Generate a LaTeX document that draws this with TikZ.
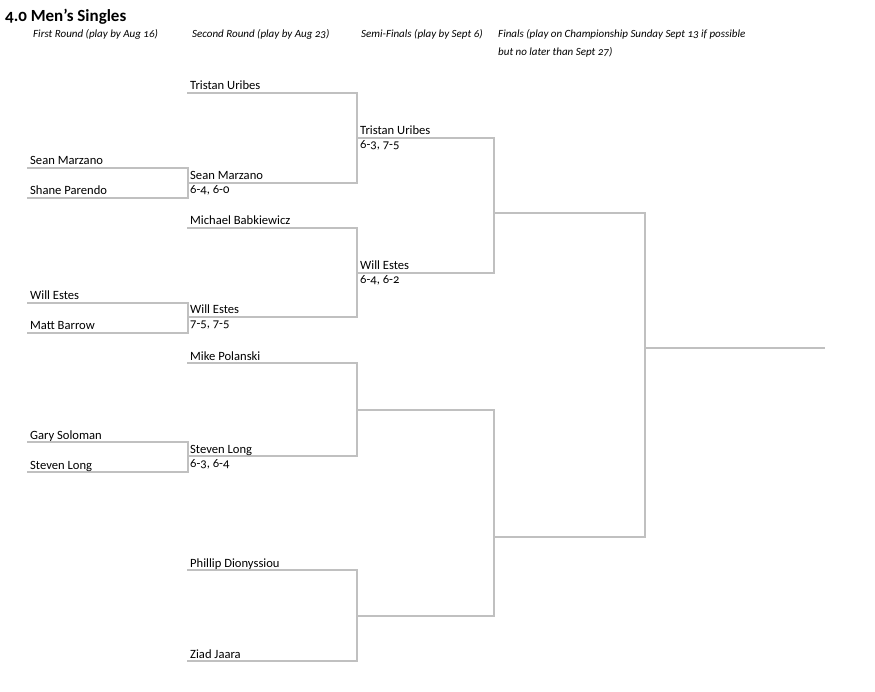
\documentclass[tikz,border=0pt]{standalone}
\usepackage{fontspec}
\setmainfont{Carlito}[Numbers=OldStyle]
\usepackage{tikz}
\definecolor{bracketgray}{RGB}{192,192,192}

\begin{document}
\begin{tikzpicture}[x=1pt,y=-1pt,
    bline/.style={draw=bracketgray, line width=2.8pt},
    player/.style={anchor=base west, inner sep=0pt, font=\fontsize{12.6}{14}\selectfont},
    roundhead/.style={anchor=base west, inner sep=0pt, font=\fontsize{11}{12}\selectfont\itshape}]
\useasboundingbox (0,0) rectangle (875,692);

% Title and round headings
\node[anchor=base west, inner sep=0pt, font=\fontsize{17}{19}\selectfont\bfseries] (title) at (5,21.5) {4.0 Men's Singles};
\node[roundhead] (hfirst) at (33,38) {First Round (play by Aug 16)};
\node[roundhead] (hsecond) at (192,38) {Second Round (play by Aug 23)};
\node[roundhead] (hsemi) at (361,38) {Semi-Finals (play by Sept 6)};
\node[roundhead] (hfinal) at (498,38) {Finals (play on Championship Sunday Sept 13 if possible};
\node[roundhead] (hfinalb) at (498,56) {but no later than Sept 27)};

% First round
\draw[bline] (27,168) -| (188,198) -- (27,198);
\draw[bline] (27,303) -| (188,333) -- (27,333);
\draw[bline] (27,442) -| (188,472) -- (27,472);
\node[player] (fr1) at (30,165) {Sean Marzano};
\node[player] (fr2) at (30,195) {Shane Parendo};
\node[player] (fr3) at (30,300) {Will Estes};
\node[player] (fr4) at (30,330) {Matt Barrow};
\node[player] (fr5) at (30,439) {Gary Soloman};
\node[player] (fr6) at (30,469) {Steven Long};

% Second round
\draw[bline] (187,93) -| (357,183) -- (187,183);
\draw[bline] (187,228) -| (357,317) -- (187,317);
\draw[bline] (187,363) -| (357,456) -- (187,456);
\draw[bline] (187,570) -| (357,661) -- (187,661);
\node[player] (sr1) at (190,90) {Tristan Uribes};
\node[player] (sr2) at (190,180) {Sean Marzano};
\node[player] (sr2s) at (190,194) {6-4, 6-0};
\node[player] (sr3) at (190,225) {Michael Babkiewicz};
\node[player] (sr4) at (190,314) {Will Estes};
\node[player] (sr4s) at (190,328) {7-5, 7-5};
\node[player] (sr5) at (190,360) {Mike Polanski};
\node[player] (sr6) at (190,453) {Steven Long};
\node[player] (sr6s) at (190,467) {6-3, 6-4};
\node[player] (sr7) at (190,567) {Phillip Dionyssiou};
\node[player] (sr8) at (190,658) {Ziad Jaara};

% Semi-finals
\draw[bline] (357,138) -| (494,273) -- (357,273);
\draw[bline] (357,410) -| (494,616) -- (357,616);
\node[player] (sf1) at (360,135) {Tristan Uribes};
\node[player] (sf1s) at (360,149) {6-3, 7-5};
\node[player] (sf2) at (360,270) {Will Estes};
\node[player] (sf2s) at (360,284) {6-4, 6-2};

% Finals
\draw[bline] (494,213) -| (645,537) -- (494,537);
\draw[bline] (645,348) -- (825,348);
\end{tikzpicture}
\end{document}
